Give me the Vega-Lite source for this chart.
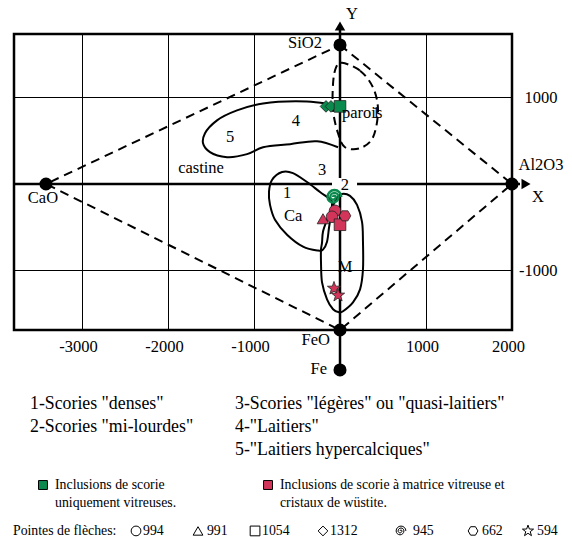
{
  "$schema": "https://vega.github.io/schema/vega-lite/v6.json",
  "width": 498,
  "height": 296,
  "autosize": "none",
  "padding": {"left": 14, "top": 34, "right": 60, "bottom": 207},
  "background": "white",
  "datasets": {
    "diamond": [
      {"o": 1, "x": 0, "y": 1607},
      {"o": 2, "x": 2000, "y": 0},
      {"o": 3, "x": 0, "y": -1688},
      {"o": 4, "x": -3419, "y": 0},
      {"o": 5, "x": 0, "y": 1607}
    ],
    "parois": [
      {"o": 1, "x": 23, "y": 1402},
      {"o": 2, "x": 233, "y": 1310},
      {"o": 3, "x": 384, "y": 1115},
      {"o": 4, "x": 442, "y": 851},
      {"o": 5, "x": 384, "y": 540},
      {"o": 6, "x": 233, "y": 414},
      {"o": 7, "x": 58, "y": 425},
      {"o": 8, "x": -23, "y": 586},
      {"o": 9, "x": -81, "y": 851},
      {"o": 10, "x": -81, "y": 1161},
      {"o": 11, "x": -47, "y": 1345}
    ],
    "castine": [
      {"o": 1, "x": -163, "y": 930},
      {"o": 2, "x": -384, "y": 954},
      {"o": 3, "x": -895, "y": 931},
      {"o": 4, "x": -1198, "y": 851},
      {"o": 5, "x": -1430, "y": 736},
      {"o": 6, "x": -1570, "y": 586},
      {"o": 7, "x": -1593, "y": 471},
      {"o": 8, "x": -1512, "y": 368},
      {"o": 9, "x": -1314, "y": 310},
      {"o": 10, "x": -1081, "y": 345},
      {"o": 11, "x": -895, "y": 425},
      {"o": 12, "x": -580, "y": 460},
      {"o": 13, "x": -267, "y": 494},
      {"o": 14, "x": -23, "y": 425}
    ],
    "zones": [
      {"z": "Ca", "o": 1, "x": -674, "y": 138},
      {"z": "Ca", "o": 2, "x": -791, "y": 46},
      {"z": "Ca", "o": 3, "x": -826, "y": -92},
      {"z": "Ca", "o": 4, "x": -814, "y": -241},
      {"z": "Ca", "o": 5, "x": -756, "y": -414},
      {"z": "Ca", "o": 6, "x": -616, "y": -586},
      {"z": "Ca", "o": 7, "x": -430, "y": -724},
      {"z": "Ca", "o": 8, "x": -256, "y": -770},
      {"z": "Ca", "o": 9, "x": -198, "y": -759},
      {"z": "Ca", "o": 10, "x": -151, "y": -667},
      {"z": "Ca", "o": 11, "x": -128, "y": -506},
      {"z": "Ca", "o": 12, "x": -105, "y": -356},
      {"z": "Ca", "o": 13, "x": -93, "y": -241},
      {"z": "Ca", "o": 14, "x": -105, "y": -184},
      {"z": "Ca", "o": 15, "x": -233, "y": -92},
      {"z": "Ca", "o": 16, "x": -384, "y": 23},
      {"z": "Ca", "o": 17, "x": -547, "y": 126},
      {"z": "M", "o": 1, "x": 23, "y": -115},
      {"z": "M", "o": 2, "x": 116, "y": -138},
      {"z": "M", "o": 3, "x": 198, "y": -241},
      {"z": "M", "o": 4, "x": 256, "y": -437},
      {"z": "M", "o": 5, "x": 267, "y": -667},
      {"z": "M", "o": 6, "x": 267, "y": -989},
      {"z": "M", "o": 7, "x": 233, "y": -1218},
      {"z": "M", "o": 8, "x": 151, "y": -1368},
      {"z": "M", "o": 9, "x": 35, "y": -1471},
      {"z": "M", "o": 10, "x": -12, "y": -1483},
      {"z": "M", "o": 11, "x": -81, "y": -1448},
      {"z": "M", "o": 12, "x": -151, "y": -1333},
      {"z": "M", "o": 13, "x": -209, "y": -1138},
      {"z": "M", "o": 14, "x": -221, "y": -908},
      {"z": "M", "o": 15, "x": -221, "y": -759},
      {"z": "M", "o": 16, "x": -209, "y": -678},
      {"z": "M", "o": 17, "x": -198, "y": -552},
      {"z": "M", "o": 18, "x": -151, "y": -414},
      {"z": "M", "o": 19, "x": -93, "y": -276},
      {"z": "M", "o": 20, "x": -35, "y": -161}
    ],
    "axes": [
      {"x": -3791, "x2": -93, "y": 0, "y2": 0},
      {"x": 198, "x2": 2093, "y": 0, "y2": 0},
      {"x": 0, "x2": 0, "y": 1800, "y2": 69},
      {"x": 0, "x2": 0, "y": -139, "y2": -2150}
    ],
    "poles": [
      {"t": "SiO2", "x": 0, "y": 1607},
      {"t": "Al2O3", "x": 2000, "y": 0},
      {"t": "CaO", "x": -3419, "y": 0},
      {"t": "FeO", "x": 0, "y": -1688},
      {"t": "Fe", "x": 0, "y": -2150}
    ],
    "inclusions": [
      {"p": "1312", "g": "vitreuse", "x": -163, "y": 897},
      {"p": "1312", "g": "vitreuse", "x": -105, "y": 897},
      {"p": "1054", "g": "vitreuse", "x": 0, "y": 897},
      {"p": "945", "g": "vitreuse", "x": -81, "y": -150},
      {"p": "991", "g": "wustite", "x": -198, "y": -402},
      {"p": "994", "g": "wustite", "x": -58, "y": -310},
      {"p": "994", "g": "wustite", "x": -93, "y": -379},
      {"p": "1054", "g": "wustite", "x": 0, "y": -471},
      {"p": "662", "g": "wustite", "x": 58, "y": -368},
      {"p": "594", "g": "wustite", "x": -70, "y": -1207},
      {"p": "594", "g": "wustite", "x": -23, "y": -1287}
    ],
    "labels": [
      {"t": "CaO", "x": -3454, "y": -162},
      {"t": "Al2O3", "x": 2337, "y": 220},
      {"t": "X", "x": 2303, "y": -150},
      {"t": "Y", "x": 140, "y": 1965},
      {"t": "castine", "x": -1616, "y": 184},
      {"t": "5", "x": -1279, "y": 541},
      {"t": "4", "x": -512, "y": 724},
      {"t": "3", "x": -209, "y": 161},
      {"t": "2", "x": 58, "y": -11},
      {"t": "1", "x": -616, "y": -103},
      {"t": "Ca", "x": -546, "y": -368},
      {"t": "M", "x": 58, "y": -965},
      {"t": "1", "x": 419, "y": 816}
    ],
    "labelsRight": [
      {"t": "SiO2", "x": -209, "y": 1630},
      {"t": "FeO", "x": -116, "y": -1803},
      {"t": "Fe", "x": -151, "y": -2139}
    ],
    "labelsLeft": [
      {"t": "parois", "x": 23, "y": 816}
    ],
    "legendLines": [
      {"t": "1-Scories \"denses\"", "x": -3605, "y": -2543},
      {"t": "2-Scories \"mi-lourdes\"", "x": -3605, "y": -2809},
      {"t": "3-Scories \"légères\" ou \"quasi-laitiers\"", "x": -1221, "y": -2543},
      {"t": "4-\"Laitiers\"", "x": -1221, "y": -2809},
      {"t": "5-\"Laitiers hypercalciques\"", "x": -1221, "y": -3075}
    ],
    "legendText": [
      {"t": "Inclusions de scorie", "x": -3314, "y": -3480},
      {"t": "uniquement vitreuses.", "x": -3314, "y": -3688},
      {"t": "Inclusions de scorie à matrice vitreuse et", "x": -698, "y": -3480},
      {"t": "cristaux de wüstite.", "x": -698, "y": -3688},
      {"t": "Pointes de flèches:", "x": -3803, "y": -4011},
      {"t": "994", "x": -2291, "y": -4011},
      {"t": "991", "x": -1547, "y": -4011},
      {"t": "1054", "x": -907, "y": -4011},
      {"t": "1312", "x": -116, "y": -4011},
      {"t": "945", "x": 849, "y": -4011},
      {"t": "662", "x": 1651, "y": -4011},
      {"t": "594", "x": 2291, "y": -4011}
    ],
    "legendColors": [
      {"g": "vitreuse", "x": -3454, "y": -3480},
      {"g": "wustite", "x": -837, "y": -3480}
    ],
    "legendShapes": [
      {"p": "994", "x": -2372, "y": -4011},
      {"p": "991", "x": -1651, "y": -4011},
      {"p": "1054", "x": -988, "y": -4011},
      {"p": "1312", "x": -198, "y": -4011},
      {"p": "945", "x": 698, "y": -4011},
      {"p": "662", "x": 1547, "y": -4011},
      {"p": "594", "x": 2186, "y": -4011}
    ]
  },
  "layer": [
    {
      "data": {"name": "diamond"},
      "mark": {"type": "line", "color": "black", "strokeWidth": 2, "strokeDash": [9, 6]},
      "encoding": {
        "x": {
          "field": "x", "type": "quantitative",
          "scale": {"domain": [-3791, 2000], "nice": false, "zero": false},
          "axis": {
            "title": null, "orient": "bottom", "values": [-3000, -2000, -1000, 1000, 2000],
            "grid": true, "gridColor": "black", "gridOpacity": 1, "gridWidth": 1,
            "ticks": false, "domain": false, "labelFlush": false, "labelOverlap": false,
            "labelFont": "Liberation Serif", "labelFontSize": 16.5, "labelColor": "black",
            "labelPadding": 8, "labelOffset": -4, "labelExpr": "'' + datum.value"
          }
        },
        "y": {
          "field": "y", "type": "quantitative",
          "scale": {"domain": [-1688, 1734], "nice": false, "zero": false},
          "axis": {
            "title": null, "orient": "right", "values": [-1000, 1000],
            "grid": true, "gridColor": "black", "gridOpacity": 1, "gridWidth": 1,
            "ticks": false, "domain": false, "labelFlush": false, "labelOverlap": false,
            "labelFont": "Liberation Serif", "labelFontSize": 16.5, "labelColor": "black",
            "labelAlign": "right", "labelPadding": 45, "labelExpr": "'' + datum.value"
          }
        },
        "order": {"field": "o", "type": "quantitative"}
      }
    },
    {
      "data": {"name": "parois"},
      "mark": {"type": "line", "color": "black", "strokeWidth": 2, "strokeDash": [8, 5], "interpolate": "cardinal-closed"},
      "encoding": {
        "x": {"field": "x", "type": "quantitative"},
        "y": {"field": "y", "type": "quantitative"},
        "order": {"field": "o", "type": "quantitative"}
      }
    },
    {
      "data": {"name": "castine"},
      "mark": {"type": "line", "color": "black", "strokeWidth": 2, "interpolate": "catmull-rom"},
      "encoding": {
        "x": {"field": "x", "type": "quantitative"},
        "y": {"field": "y", "type": "quantitative"},
        "order": {"field": "o", "type": "quantitative"}
      }
    },
    {
      "data": {"name": "zones"},
      "mark": {"type": "line", "color": "black", "strokeWidth": 2, "interpolate": "cardinal-closed"},
      "encoding": {
        "x": {"field": "x", "type": "quantitative"},
        "y": {"field": "y", "type": "quantitative"},
        "detail": {"field": "z"},
        "order": {"field": "o", "type": "quantitative"}
      }
    },
    {
      "data": {"name": "axes"},
      "mark": {"type": "rule", "color": "black", "strokeWidth": 2.5},
      "encoding": {
        "x": {"field": "x", "type": "quantitative"},
        "x2": {"field": "x2"},
        "y": {"field": "y", "type": "quantitative"},
        "y2": {"field": "y2"}
      }
    },
    {
      "data": {"values": [{"x": 2163, "y": 0}]},
      "mark": {"type": "point", "shape": "triangle-right", "filled": true, "color": "black", "size": 110, "opacity": 1},
      "encoding": {
        "x": {"field": "x", "type": "quantitative"},
        "y": {"field": "y", "type": "quantitative"}
      }
    },
    {
      "data": {"values": [{"x": 0, "y": 1826}]},
      "mark": {"type": "point", "shape": "triangle-up", "filled": true, "color": "black", "size": 110, "opacity": 1},
      "encoding": {
        "x": {"field": "x", "type": "quantitative"},
        "y": {"field": "y", "type": "quantitative"}
      }
    },
    {
      "data": {"name": "poles"},
      "mark": {"type": "point", "shape": "circle", "filled": true, "color": "black", "size": 170, "opacity": 1},
      "encoding": {
        "x": {"field": "x", "type": "quantitative"},
        "y": {"field": "y", "type": "quantitative"}
      }
    },
    {
      "data": {"name": "inclusions"},
      "transform": [{"filter": "datum.p != '945'"}],
      "mark": {"type": "point", "filled": true, "stroke": "#222222", "strokeWidth": 0.8, "size": 135, "opacity": 1},
      "encoding": {
        "x": {"field": "x", "type": "quantitative"},
        "y": {"field": "y", "type": "quantitative"},
        "color": {
          "field": "g", "type": "nominal", "legend": null,
          "scale": {"domain": ["vitreuse", "wustite"], "range": ["#0b8a4e", "#d23559"]}
        },
        "shape": {
          "field": "p", "type": "nominal", "legend": null,
          "scale": {
            "domain": ["994", "991", "1054", "1312", "945", "662", "594"],
            "range": [
              "circle", "triangle-up", "square", "diamond",
              "M0,0A0.2,0.2 0 0 1 0.4,0A0.4,0.4 0 0 1 -0.4,0A0.6,0.6 0 0 1 0.8,0A0.8,0.8 0 0 1 -0.8,0A1,1 0 0 1 1.2,0",
              "M-1,0L-0.5,-0.866L0.5,-0.866L1,0L0.5,0.866L-0.5,0.866Z",
              "M0,-1.2L0.28,-0.39L1.14,-0.37L0.46,0.15L0.71,0.97L0,0.48L-0.71,0.97L-0.46,0.15L-1.14,-0.37L-0.28,-0.39Z"
            ]
          }
        }
      }
    },
    {
      "data": {"name": "inclusions"},
      "transform": [{"filter": "datum.p == '945'"}],
      "mark": {"type": "point", "filled": false, "strokeWidth": 2.4, "size": 190, "opacity": 1},
      "encoding": {
        "x": {"field": "x", "type": "quantitative"},
        "y": {"field": "y", "type": "quantitative"},
        "color": {"field": "g", "type": "nominal", "legend": null},
        "shape": {"field": "p", "type": "nominal", "legend": null}
      }
    },
    {
      "data": {"name": "legendColors"},
      "mark": {"type": "point", "shape": "square", "filled": true, "stroke": "black", "strokeWidth": 1, "size": 80, "opacity": 1},
      "encoding": {
        "x": {"field": "x", "type": "quantitative"},
        "y": {"field": "y", "type": "quantitative"},
        "color": {"field": "g", "type": "nominal", "legend": null}
      }
    },
    {
      "data": {"name": "legendShapes"},
      "mark": {"type": "point", "filled": false, "color": "black", "strokeWidth": 1, "size": 95, "opacity": 1},
      "encoding": {
        "x": {"field": "x", "type": "quantitative"},
        "y": {"field": "y", "type": "quantitative"},
        "shape": {"field": "p", "type": "nominal", "legend": null}
      }
    },
    {
      "data": {"name": "labels"},
      "mark": {"type": "text", "align": "center", "fontSize": 16.5},
      "encoding": {
        "x": {"field": "x", "type": "quantitative"},
        "y": {"field": "y", "type": "quantitative"},
        "text": {"field": "t"}
      }
    },
    {
      "data": {"name": "labelsRight"},
      "mark": {"type": "text", "align": "right", "fontSize": 16.5},
      "encoding": {
        "x": {"field": "x", "type": "quantitative"},
        "y": {"field": "y", "type": "quantitative"},
        "text": {"field": "t"}
      }
    },
    {
      "data": {"name": "labelsLeft"},
      "mark": {"type": "text", "align": "left", "fontSize": 16.5},
      "encoding": {
        "x": {"field": "x", "type": "quantitative"},
        "y": {"field": "y", "type": "quantitative"},
        "text": {"field": "t"}
      }
    },
    {
      "data": {"name": "legendLines"},
      "mark": {"type": "text", "align": "left", "fontSize": 17.8},
      "encoding": {
        "x": {"field": "x", "type": "quantitative"},
        "y": {"field": "y", "type": "quantitative"},
        "text": {"field": "t"}
      }
    },
    {
      "data": {"name": "legendText"},
      "mark": {"type": "text", "align": "left", "fontSize": 13.8},
      "encoding": {
        "x": {"field": "x", "type": "quantitative"},
        "y": {"field": "y", "type": "quantitative"},
        "text": {"field": "t"}
      }
    }
  ],
  "config": {
    "view": {"stroke": "black", "strokeWidth": 2.5},
    "text": {"font": "Liberation Serif", "baseline": "middle", "color": "black"}
  }
}
